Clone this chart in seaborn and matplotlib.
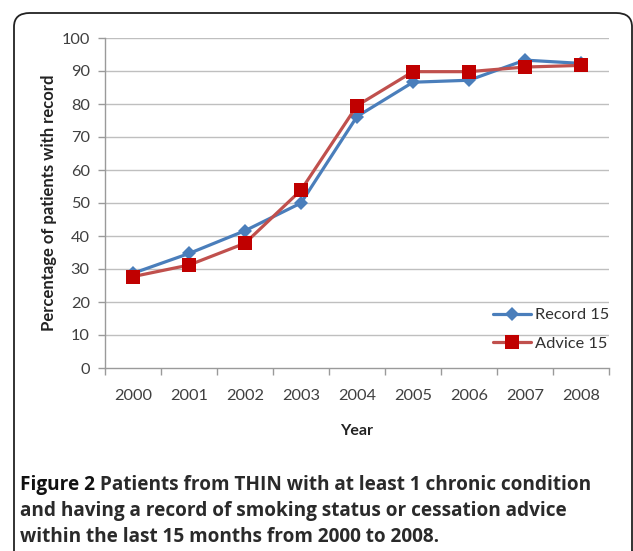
import matplotlib
matplotlib.use("Agg")
import matplotlib.pyplot as plt
from matplotlib.patches import FancyBboxPatch
import seaborn as sns
import pandas as pd

# Data: share of patients (%) with a record within the last 15 months
years = [2000, 2001, 2002, 2003, 2004, 2005, 2006, 2007, 2008]
record_15 = [28.7, 34.7, 41.6, 50.0, 76.2, 86.6, 87.2, 93.3, 92.3]
advice_15 = [27.7, 31.2, 37.8, 53.9, 79.5, 89.8, 89.8, 91.2, 91.7]
series_names = ["Record 15", "Advice 15"]
y_ticks = [0, 10, 20, 30, 40, 50, 60, 70, 80, 90, 100]

caption_bold = "Figure 2"
caption_rest = [
    " Patients from THIN with at least 1 chronic condition",
    "and having a record of smoking status or cessation advice",
    "within the last 15 months from 2000 to 2008.",
]

sns.set_theme(style="white")
plt.rcParams["font.family"] = ["Lato", "DejaVu Sans"]

W, H = 633, 551
fig = plt.figure(figsize=(W / 100, H / 100), dpi=100)

# rounded frame around the figure panel
frame = FancyBboxPatch((14 / W, 1 - 700 / H), 618 / W, 687 / H,
                       boxstyle="round,pad=0,rounding_size=0.025",
                       transform=fig.transFigure, facecolor="none",
                       edgecolor="#222222", linewidth=1.3)
fig.patches.append(frame)

ax = fig.add_axes([105 / W, 1 - 368 / H, 504 / W, 330 / H])

df = pd.DataFrame({
    "Year": years * 2,
    "Value": record_15 + advice_15,
    "Series": [series_names[0]] * len(years) + [series_names[1]] * len(years),
})
df["pos"] = df["Year"] - years[0]

rec = df[df["Series"] == series_names[0]]
adv = df[df["Series"] == series_names[1]]

sns.lineplot(data=rec, x="pos", y="Value", ax=ax, color="#4A7EBB",
             linewidth=2.3, marker="D", markersize=7, markeredgewidth=0,
             label=series_names[0], zorder=3)
sns.lineplot(data=adv, x="pos", y="Value", ax=ax, color="#C0504D",
             linewidth=2.3, marker="s", markersize=9.5,
             markerfacecolor="#C00000", markeredgecolor="#C00000",
             markeredgewidth=0, label=series_names[1], zorder=4)

ax.set_xlim(-0.5, len(years) - 0.5)
ax.set_ylim(0, 100)
ax.set_yticks(y_ticks)
ax.set_yticklabels([str(v) for v in y_ticks])
ax.set_xticks(range(len(years)))
ax.set_xticklabels([str(y) for y in years])
ax.set_xticks([i - 0.5 for i in range(len(years) + 1)], minor=True)

grid_c = "#BFBFBF"
for v in y_ticks[1:]:
    ax.axhline(v, color=grid_c, linewidth=1.0, zorder=1)

for side in ["top", "right"]:
    ax.spines[side].set_visible(False)
for side in ["left", "bottom"]:
    ax.spines[side].set_color("#9A9A9A")
    ax.spines[side].set_linewidth(1.0)

ax.tick_params(axis="y", which="major", direction="out", length=5, width=1,
               color="#9A9A9A", labelsize=11.8, labelcolor="#404040", pad=6, left=True)
ax.tick_params(axis="x", which="major", length=0, labelsize=11.8,
               labelcolor="#404040", pad=15, bottom=True)
ax.tick_params(axis="x", which="minor", direction="out", length=5, width=1,
               color="#9A9A9A", bottom=True)

ax.set_xlabel("Year", fontsize=11.5, fontweight="bold", color="#222222", labelpad=15)
ax.set_ylabel("Percentage of patients with record", fontsize=12,
              fontweight="bold", color="#222222", labelpad=3)

leg = ax.legend(loc="upper left", bbox_to_anchor=(493 / W, 1 - 308 / H),
                bbox_transform=fig.transFigure, frameon=False, fontsize=11.8,
                handlelength=2.3, handletextpad=0.25, labelspacing=0.85,
                borderpad=0, borderaxespad=0)
for t in leg.get_texts():
    t.set_color("#303030")

# caption below the chart
cap_font = ["Open Sans", "DejaVu Sans"]
cap_size = 13.7
cap_y = [490, 516, 542]
fig.canvas.draw()
renderer = fig.canvas.get_renderer()
t0 = fig.text(20 / W, 1 - cap_y[0] / H, caption_bold, fontsize=cap_size,
              fontweight="bold", family=cap_font, color="#111111", va="baseline")
bb = t0.get_window_extent(renderer=renderer)
fig.text(bb.x1 / W, 1 - cap_y[0] / H, caption_rest[0], fontsize=cap_size,
         fontweight="bold", family=cap_font, color="#2a2a2a", va="baseline")
for line, yy in zip(caption_rest[1:], cap_y[1:]):
    fig.text(20 / W, 1 - yy / H, line, fontsize=cap_size, fontweight="bold",
             family=cap_font, color="#2a2a2a", va="baseline")

fig.savefig("out.png", dpi=100)
